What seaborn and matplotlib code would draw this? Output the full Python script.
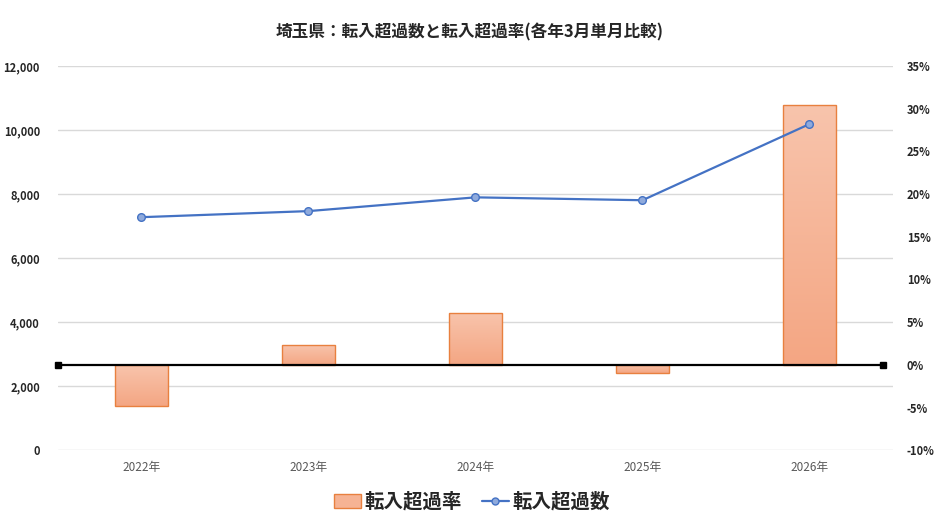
import numpy as np
import seaborn as sns
import matplotlib.pyplot as plt
from matplotlib.patches import Patch
from matplotlib.lines import Line2D
from matplotlib.colors import LinearSegmentedColormap

years = ['2022年', '2023年', '2024年', '2025年', '2026年']
rate = [-4.8, 2.3, 6.1, -1.0, 30.4]          # 転入超過率 (%)
count = [7280, 7470, 7900, 7810, 10190]      # 転入超過数

title = '埼玉県：転入超過数と転入超過率(各年3月単月比較)'

sns.set_theme(style='white')
plt.rcParams['font.family'] = ['Noto Sans CJK JP', 'DejaVu Sans']

fig = plt.figure(figsize=(9.4, 5.29), dpi=100)
ax = fig.add_axes([0.0617, 0.149, 0.8883, 0.726])
ax2 = ax.twinx()

# bars on the bottom axes (right-hand % scale)
sns.barplot(x=years, y=rate, ax=ax, width=0.32, color='#F6B394',
            edgecolor='#E8803F', linewidth=1.0)

grad = LinearSegmentedColormap.from_list('g', ['#F8C4AC', '#F4A683'])
for bar in ax.patches:
    x0, y0 = bar.get_x(), bar.get_y()
    w, h = bar.get_width(), bar.get_height()
    ylo, yhi = min(y0, y0 + h), max(y0, y0 + h)
    img = ax.imshow(np.linspace(0, 1, 100).reshape(-1, 1), cmap=grad,
                    extent=[x0, x0 + w, ylo, yhi], aspect='auto',
                    origin='upper', zorder=bar.get_zorder() - 0.1)
    img.set_clip_path(bar)
    bar.set_facecolor('none')
ax.set_xlim(-0.5, 4.5)
ax.set_ylim(-10, 35)

ax.yaxis.tick_right()
ax.yaxis.remove_overlapping_locs = False
ax.set_yticks(np.arange(-10, 36, 5))
ax.set_yticklabels([f'{v}%' for v in range(-10, 36, 5)])
# gridlines follow the left (count) axis
ax.set_yticks(np.linspace(-10, 35, 7), minor=True)
ax.grid(which='minor', axis='y', color='#D9D9D9', linewidth=1.0)
ax.grid(which='major', axis='y', visible=False)
ax.tick_params(which='both', length=0)
ax.tick_params(axis='y', which='minor', labelright=False, labelleft=False)
ax.tick_params(axis='y', labelsize=8, labelcolor='#262626', pad=10)
ax.tick_params(axis='x', labelsize=8.5, labelcolor='#595959', pad=8)
for lab in ax.get_yticklabels():
    lab.set_fontweight('bold')

# zero reference line
ax.plot([0, 0.988], [0, 0], transform=ax.get_yaxis_transform(),
        color='black', linewidth=1.6, marker='s', markersize=5,
        clip_on=False, zorder=5)

for s in ax.spines.values():
    s.set_visible(False)

# line on the twin axes (left-hand count scale)
sns.pointplot(x=years, y=count, ax=ax2, color='#4472C4', markers='o',
              markersize=5.5, linewidth=1.6,
              markerfacecolor='#8FAADC', markeredgecolor='#4472C4',
              markeredgewidth=1.0)
ax2.set_ylim(0, 12000)
ax2.set_xlim(-0.5, 4.5)
ax2.yaxis.tick_left()
ax2.set_yticks(np.arange(0, 12001, 2000))
ax2.set_yticklabels([f'{v:,}' for v in range(0, 12001, 2000)])
ax2.tick_params(axis='y', length=0, labelsize=8, labelcolor='#262626', pad=13)
for lab in ax2.get_yticklabels():
    lab.set_fontweight('bold')
ax2.grid(False)
ax2.set_xlabel('')
ax2.set_ylabel('')
ax.set_ylabel('')
for s in ax2.spines.values():
    s.set_visible(False)

fig.suptitle(title, x=0.5, y=0.955, fontsize=12, fontweight='bold',
             color='#262626')

handles = [Patch(facecolor='#F6B394', edgecolor='#E8803F', linewidth=1.0),
           Line2D([0], [0], color='#4472C4', linewidth=1.6, marker='o',
                  markersize=5, markerfacecolor='#8FAADC',
                  markeredgecolor='#4472C4')]
fig.legend(handles, ['転入超過率', '転入超過数'], loc='center',
           bbox_to_anchor=(0.502, 0.051), ncol=2, frameon=False,
           prop={'size': 14, 'weight': 'bold'}, handlelength=1.4,
           handletextpad=0.2, columnspacing=1.0)

fig.savefig('out.png', dpi=100)
